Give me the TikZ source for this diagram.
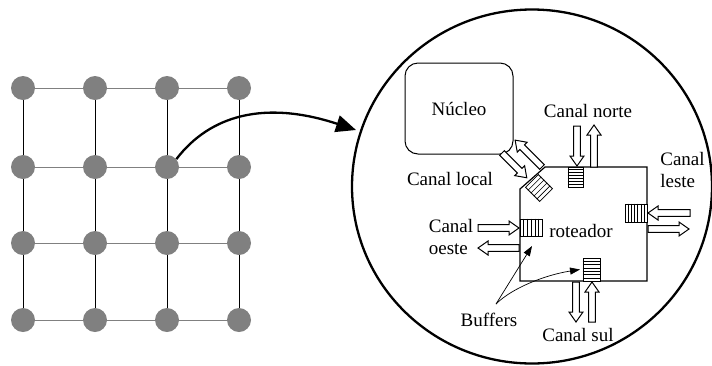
\documentclass[tikz,border=0pt]{standalone}
\usepackage{fontspec}
\setmainfont{Liberation Serif}
\usetikzlibrary{arrows.meta,calc}

\definecolor{nodegray}{HTML}{808080}

% interior stripes of a buffer node: #1 node name, #2 number of lines
\newcommand\hstripes[2]{%
  \foreach \k in {1,...,#2}{%
    \draw[line width=0.6pt] ($(#1.north west)!{\k/(#2+1)}!(#1.south west)$) --
                            ($(#1.north east)!{\k/(#2+1)}!(#1.south east)$);}}
\newcommand\vstripes[2]{%
  \foreach \k in {1,...,#2}{%
    \draw[line width=0.6pt] ($(#1.north west)!{\k/(#2+1)}!(#1.north east)$) --
                            ($(#1.south west)!{\k/(#2+1)}!(#1.south east)$);}}

\tikzset{
  pe/.style={circle, fill=nodegray, draw=none, minimum size=24pt, inner sep=0pt},
  hlink/.style={draw=nodegray, line width=1pt},
  vlink/.style={draw=black, line width=0.9pt},
  lbl/.style={inner sep=0pt},
  buffer/.style={draw, fill=white, line width=0.8pt, inner sep=0pt},
  chanline/.style={draw, fill=white, line width=1pt, line join=miter},
  pics/chan/.style={code={%
    \path[chanline] (0,-3.3) -- ({#1-10},-3.3) -- ({#1-10},-7) -- (#1,0)
      -- ({#1-10},7) -- ({#1-10},3.3) -- (0,3.3) -- cycle;}},
  pointer/.style={line width=0.7pt, -{Triangle[length=10pt,width=7pt]}},
}

\begin{document}
\begin{tikzpicture}[x=1pt, y=-1pt, font=\fontsize{19}{22}\selectfont]
\useasboundingbox (0,0) rectangle (712,365);

% ---- 4x4 mesh of processing elements ----
\foreach \i/\x in {0/23,1/95,2/167,3/239}
  \foreach \j/\y in {0/88,1/167,2/243,3/320}
    \node[pe] (g\i\j) at (\x,\y) {};
\foreach \j in {0,...,3}{
  \draw[hlink] (g0\j) -- (g1\j);
  \draw[hlink] (g1\j) -- (g2\j);
  \draw[hlink] (g2\j) -- (g3\j);}
\foreach \i in {0,...,3}{
  \draw[vlink] (g\i0) -- (g\i1);
  \draw[vlink] (g\i1) -- (g\i2);
  \draw[vlink] (g\i2) -- (g\i3);}

% ---- magnified view ----
\draw[line width=2.3pt] (532,186.5) ellipse [x radius=180, y radius=177];
\coordinate (zoomtip) at (356,130);
\draw[line width=2.3pt, -{Triangle[length=20pt,width=17pt]}]
  (g21.40) .. controls (210,115) and (265,100) .. (zoomtip);

% processing core
\node[draw, rounded corners=13pt, minimum width=108pt, minimum height=91pt,
      line width=1pt] (core) at (459,108.5) {Núcleo};

% router outline with chamfered corner for the local port
\draw[line width=1.2pt] (545,167) -- (647,167) -- (647,281) -- (520,281)
  -- (520,189) -- cycle;
\node[lbl] (rot) at (581,230.5) {roteador};

% input buffers
\node[buffer, minimum width=15pt, minimum height=20pt] (bn) at (575.5,177) {};
\hstripes{bn}{6}
\node[buffer, minimum width=22pt, minimum height=18pt] (be) at (636,213) {};
\vstripes{be}{6}
\node[buffer, minimum width=22pt, minimum height=17pt] (bw) at (531,227.5) {};
\vstripes{bw}{5}
\node[buffer, minimum width=17pt, minimum height=23pt] (bs) at (591.5,269.5) {};
\hstripes{bs}{6}
\node[buffer, minimum width=18pt, minimum height=20pt, rotate=45] (bl) at (539,188) {};
\hstripes{bl}{4}

% channels (in / out pairs)
\pic[rotate=-90] at (577,126) {chan=40};
\pic[rotate=90]  at (594,167) {chan=42};
\pic[rotate=-90] at (576,282) {chan=40};
\pic[rotate=90]  at (592,322) {chan=40};
\pic[rotate=180] at (690,213) {chan=42};
\pic             at (648,229) {chan=41};
\pic             at (478,228) {chan=41};
\pic[rotate=180] at (519,248) {chan=41};
\pic[rotate=-45] at (502,153) {chan=35};
\pic[rotate=135] at (542,167) {chan=38};

% labels
\node[lbl] (cn) at (588,110.5) {Canal norte};
\node[lbl] (cl) at (450,178.5) {Canal local};
\node[lbl, align=left] (ce) at (682.5,169.5) {Canal\\leste};
\node[lbl, align=left] (co) at (451,237.3) {Canal\\oeste};
\node[lbl] (cs) at (578,335) {Canal sul};
\node[lbl] (buf) at (489,319.5) {Buffers};

% pointers from the "Buffers" label
\coordinate (bsrc) at (496,304);
\coordinate (bwtip) at (532,246);
\coordinate (bstip) at (580,269.5);
\draw[pointer] (bsrc) -- (bwtip);
\draw[pointer] (bsrc) .. controls (512,288) and (545,275) .. (bstip);
\end{tikzpicture}
\end{document}
